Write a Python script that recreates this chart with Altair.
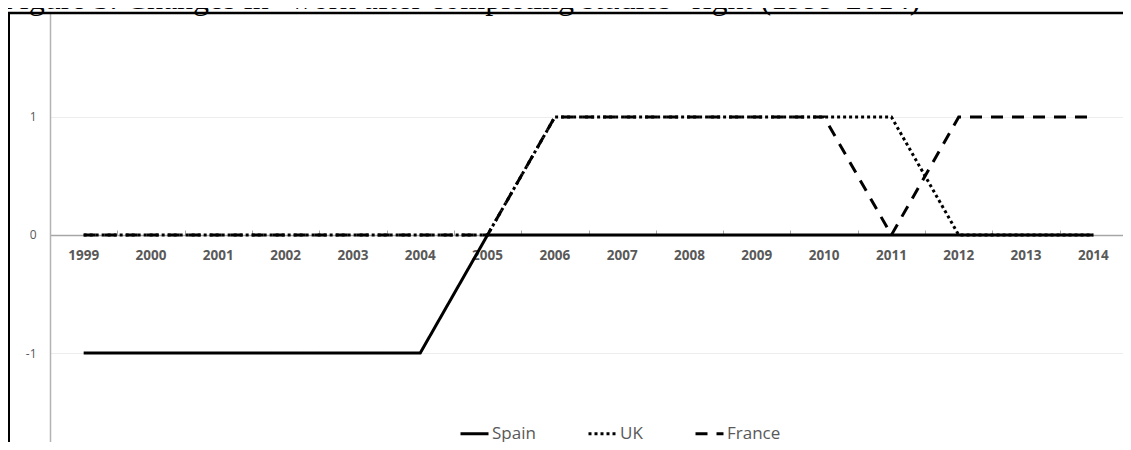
import altair as alt
import pandas as pd

# ---- data ----
years = [str(y) for y in range(1999, 2015)]
spain = [-1, -1, -1, -1, -1, -1, 0, 0, 0, 0, 0, 0, 0, 0, 0, 0]
uk = [0, 0, 0, 0, 0, 0, 0, 1, 1, 1, 1, 1, 1, 0, 0, 0]
france = [0, 0, 0, 0, 0, 0, 0, 1, 1, 1, 1, 1, 0, 1, 1, 1]
series = ["Spain", "UK", "France"]
y_ticks = [-1, 0, 1]
TITLE = 'Figure 3. Changes in "work after completing studies" right (1999-2014)'

rows = []
for name, vals in zip(series, [spain, uk, france]):
    for yr, v in zip(years, vals):
        rows.append({"year": yr, "value": v, "country": name})
df = pd.DataFrame(rows)

GRAY = "#595959"
W, H = 1073, 429
xscale = alt.Scale(type="band", domain=years, paddingInner=0, paddingOuter=0, range=[0, 1077])
yscale = alt.Scale(domain=[-1.754, 1.881], nice=False, zero=False)

yaxis = alt.Axis(values=y_ticks, domain=True, domainColor="#b3b3b3", domainWidth=1.5,
                 ticks=False, grid=True, gridColor="#ededed", gridWidth=1,
                 labelFont="Open Sans", labelFontSize=12, labelColor=GRAY,
                 labelExpr="'' + datum.value",
                 labelPadding=14, title=None)

base = alt.Chart(df)

lines = base.mark_line(strokeWidth=3, color="black").encode(
    x=alt.X(
        "year:O", sort=years, scale=xscale,
        axis=alt.Axis(orient="bottom", offset=-207, domain=False, ticks=False, tickSize=0,
                      labelAngle=0, labelFont="Open Sans", labelFontWeight="bold",
                      labelFontSize=13.5, labelColor=GRAY, labelPadding=13,
                      labelBaseline="top", grid=False, title=None),
    ),
    y=alt.Y("value:Q", scale=yscale, axis=yaxis),
    strokeDash=alt.StrokeDash(
        "country:N",
        scale=alt.Scale(domain=series, range=[[1, 0], [3, 3], [12, 9]]),
        legend=alt.Legend(title=None, orient="none", legendX=409, legendY=405,
                          direction="horizontal", symbolType="stroke", symbolSize=784,
                          symbolStrokeWidth=3, symbolStrokeColor="black",
                          labelFont="Open Sans", labelFontSize=17, labelColor=GRAY,
                          labelOffset=2, columnPadding=46, padding=0),
    ),
)

zero_axis = base.mark_point(opacity=0).encode(
    x=alt.X(
        "year:O", sort=years, scale=xscale,
        axis=alt.Axis(orient="top", offset=-222, labels=False, domain=True,
                      domainColor="#a6a6a6", domainWidth=1.5, ticks=True,
                      tickBand="extent", tickSize=5, tickColor="#a6a6a6",
                      grid=False, title=None),
    ),
    y=alt.Y("value:Q", scale=yscale, axis=yaxis),
)

deco = alt.Chart(pd.DataFrame({"k": [0]}))
title = deco.mark_text(text=TITLE, font="Liberation Serif", fontSize=32, align="left",
                       baseline="alphabetic", color="black").encode(
    x=alt.value(-48), y=alt.value(-4))
top_rule = deco.mark_rule(color="black", strokeWidth=2.5).encode(
    x=alt.value(-42), x2=alt.value(W), y=alt.value(0))
left_rule = deco.mark_rule(color="black", strokeWidth=2).encode(
    x=alt.value(-41), y=alt.value(0), y2=alt.value(H))

chart = alt.layer(title, top_rule, left_rule, zero_axis, lines).resolve_axis(
    x="independent"
).properties(
    width=W, height=H,
    padding={"left": 42, "top": 5, "right": 0, "bottom": 0},
    autosize=alt.AutoSizeParams(type="none"),
).configure_view(strokeOpacity=0)

chart.save("out.html", embed_options={"renderer": "svg", "actions": False})
